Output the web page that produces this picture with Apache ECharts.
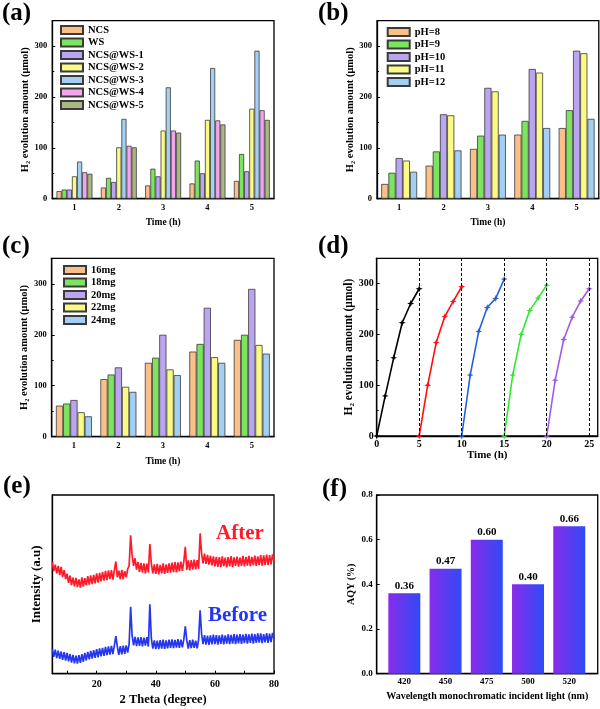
<!DOCTYPE html>
<html>
<head>
<meta charset="utf-8">
<script src="https://cdn.jsdelivr.net/npm/echarts@6/dist/echarts.min.js"></script>
<style>html,body{margin:0;padding:0;background:#fff;}#chart{width:600px;height:709px;}</style>
</head>
<body>
<div id="chart"></div>
<script>
// ---------- DATA ----------
const timeCats = ['1', '2', '3', '4', '5'];
// (a)
const a_NCS = [15, 22, 26, 30, 35];
const a_WS  = [18, 41, 59, 75, 88];
const a_WS1 = [18, 33, 44, 50, 54];
const a_WS2 = [44, 101, 134, 155, 177];
const a_WS3 = [73, 157, 219, 257, 291];
const a_WS4 = [52, 104, 134, 154, 174];
const a_WS5 = [49, 101, 130, 146, 155];
// (b)
const b_pH8  = [29, 65, 98, 126, 139];
const b_pH9  = [51, 93, 124, 153, 174];
const b_pH10 = [80, 166, 218, 255, 291];
const b_pH11 = [75, 164, 211, 248, 286];
const b_pH12 = [53, 95, 126, 139, 157];
// (c)
const c_16 = [61, 113, 145, 167, 190];
const c_18 = [65, 122, 155, 182, 200];
const c_20 = [72, 136, 200, 253, 290];
const c_22 = [48, 98, 132, 156, 180];
const c_24 = [40, 88, 121, 145, 163];
// (d)
const d_time1 = [0, 1, 2, 3, 4, 5];
const d_h2_1  = [0, 79, 154, 223, 261, 290];
const d_time2 = [5, 6, 7, 8, 9, 10];
const d_h2_2  = [0, 100, 184, 235, 265, 294];
const d_time3 = [10, 11, 12, 13, 14, 15];
const d_h2_3  = [0, 120, 206, 253, 271, 309];
const d_time4 = [15, 16, 17, 18, 19, 20];
const d_h2_4  = [0, 120, 200, 247, 272, 297];
const d_time5 = [20, 21, 22, 23, 24, 25];
const d_h2_5  = [0, 110, 190, 234, 266, 290];
const d_cycleEnds = [5, 10, 15, 20, 25];
// (e)
const e_theta = [
  5,5.5,6,6.5,7,7.5,8,8.5,9,9.5,
  10,10.5,11,11.5,12,12.5,13,13.5,14,14.5,
  15,15.5,16,16.5,17,17.5,18,18.5,19,19.5,
  20,20.5,21,21.5,22,22.5,23,23.5,24,24.5,
  25,25.5,26,26.5,27,27.5,28,28.5,29,29.5,
  30,30.5,31,31.5,32,32.5,33,33.5,34,34.5,
  35,35.5,36,36.5,37,37.5,38,38.5,39,39.5,
  40,40.5,41,41.5,42,42.5,43,43.5,44,44.5,
  45,45.5,46,46.5,47,47.5,48,48.5,49,49.5,
  50,50.5,51,51.5,52,52.5,53,53.5,54,54.5,
  55,55.5,56,56.5,57,57.5,58,58.5,59,59.5,
  60,60.5,61,61.5,62,62.5,63,63.5,64,64.5,
  65,65.5,66,66.5,67,67.5,68,68.5,69,69.5,
  70,70.5,71,71.5,72,72.5,73,73.5,74,74.5,
  75,75.5,76,76.5,77,77.5,78,78.5,79,79.5,
  80
];
const e_after = [
  62.6,57.4,61.0,56.1,60.3,55.2,59.8,54.1,57.9,53.0,
  56.0,50.8,54.9,49.6,53.7,48.9,53.6,48.5,52.8,48.2,
  53.9,48.7,53.5,49.4,54.6,49.9,55.0,50.2,55.3,50.6,
  56.1,51.0,56.4,51.7,57.0,52.1,57.6,52.4,57.8,52.9,
  57.9,52.6,58.0,62.8,53.9,57.6,52.8,58.1,53.0,57.4,
  53.9,58.6,60.5,77.5,66.2,60.4,64.6,58.3,62.5,57.0,
  62.0,56.5,61.8,56.1,61.6,56.6,72.5,61.7,56.2,61.2,
  55.9,61.4,55.6,60.9,56.1,61.7,55.8,61.1,56.4,61.8,
  56.6,62.1,56.9,62.5,56.7,62.3,57.2,62.7,57.5,62.9,
  71.0,58.1,63.4,57.8,63.6,58.2,63.8,58.4,63.5,58.7,
  78.5,67.3,61.8,67.2,61.5,66.5,61.0,66.0,60.6,65.7,
  60.1,65.4,59.8,65.2,59.6,65.6,60.2,64.9,59.5,65.3,
  60.0,65.8,59.7,65.1,60.4,65.5,59.9,65.0,60.3,65.9,
  60.1,65.3,60.5,66.0,60.2,65.4,60.6,66.1,60.4,65.7,
  60.7,66.4,60.5,66.2,60.9,66.7,60.8,66.3,61.2,66.8,
  63.0
];
const e_before = [
  14.0,9.4,13.5,8.7,12.9,8.3,12.4,7.7,12.0,7.4,
  11.6,6.9,11.0,6.2,10.5,5.8,10.1,5.6,10.4,6.1,
  11.0,6.7,11.6,7.4,12.2,8.0,12.7,8.4,13.2,8.9,
  13.8,9.2,14.2,9.7,14.5,10.0,15.0,10.4,15.3,10.7,
  15.5,11.0,15.8,21.0,15.1,10.6,15.4,10.8,15.7,11.1,
  15.8,11.8,16.7,37.5,21.4,15.8,20.6,15.4,20.3,15.6,
  20.5,15.3,20.2,15.7,20.4,15.2,38.8,19.7,14.0,18.6,
  13.7,18.5,13.8,18.8,14.1,19.0,13.9,18.7,14.2,19.1,
  14.4,19.2,14.3,18.9,14.6,19.4,14.4,19.1,14.7,19.3,
  26.5,18.6,14.0,18.8,14.3,19.0,14.5,18.5,14.2,19.2,
  35.5,22.2,16.6,21.6,16.3,21.3,16.1,21.5,16.4,21.8,
  16.5,21.6,16.3,21.4,16.7,21.9,16.4,21.5,16.8,22.0,
  16.6,21.7,16.9,22.1,16.5,21.8,17.0,22.2,16.7,21.9,
  17.1,22.3,16.8,22.0,17.2,22.4,16.9,22.1,17.3,22.5,
  17.4,22.6,17.1,22.2,17.6,22.7,17.3,22.4,17.7,22.8,
  19.5
];
const e_labelTicks = [20, 40, 60, 80];
const e_minorTicks = [10, 20, 30, 40, 50, 60, 70, 80];
// (f)
const f_wavelengths = ['420', '450', '475', '500', '520'];
const f_positions = [1, 2, 3, 4, 5];
const f_aqy = [0.36, 0.47, 0.60, 0.40, 0.66];

// ---------- STYLE ----------
const FONT = 'Liberation Serif';
const C = {
  orange: '#FBC087', green: '#7DE45F', lav: '#BCA5F0', yellow: '#FAFA85',
  blue: '#A3CFF5', pink: '#F3A6EE', olive: '#A9B981'
};
const grids = [
  {left: 52.3, top: 20.7, width: 221.7, height: 178},
  {left: 377, top: 20.7, width: 221.8, height: 178},
  {left: 51.7, top: 258.3, width: 222.3, height: 178.4},
  {left: 376.7, top: 258.3, width: 221, height: 177.7},
  {left: 52.3, top: 495, width: 221.7, height: 178.7},
  {left: 376.7, top: 495, width: 221, height: 178.7}
].map(g => Object.assign({show: true, borderColor: '#000', borderWidth: 1.3, backgroundColor: 'transparent', containLabel: false}, g));

const txt = (size) => ({fontFamily: FONT, fontWeight: 'bold', fontSize: size, color: '#000'});
const axLine = {show: true, lineStyle: {color: '#000', width: 1.3}};

function catX(idx, labelSize, nameGap, margin) {
  return {
    type: 'category', gridIndex: idx, data: timeCats,
    axisLine: axLine, axisTick: {show: false},
    axisLabel: Object.assign(txt(labelSize), {margin: margin}),
    name: 'Time (h)', nameLocation: 'middle', nameGap: nameGap, nameTextStyle: txt(9.5)
  };
}
function h2Y(idx, labelSize, nameSize, nameGap, margin) {
  return {
    type: 'value', gridIndex: idx, min: 0, max: 350, interval: 100,
    axisLine: axLine,
    axisTick: {show: true, inside: true, length: 3, lineStyle: {color: '#000'}},
    minorTick: {show: true, splitNumber: 2, length: 2, lineStyle: {color: '#000'}},
    splitLine: {show: false},
    axisLabel: Object.assign(txt(labelSize), {margin: margin, showMaxLabel: false}),
    name: 'H₂ evolution amount (μmol)', nameLocation: 'middle', nameRotate: 90,
    nameGap: nameGap, nameTextStyle: txt(nameSize)
  };
}
function barS(name, data, color, idx, gap) {
  return {
    type: 'bar', name: name, data: data, xAxisIndex: idx, yAxisIndex: idx,
    barGap: '0%', barCategoryGap: gap,
    itemStyle: {color: color, borderColor: '#3a3a3a', borderWidth: 0.8},
    emphasis: {disabled: true}
  };
}
const starPath = 'path://M0,-10 L2.6,-2.6 L10,0 L2.6,2.6 L0,10 L-2.6,2.6 L-10,0 L-2.6,-2.6 Z';
function lineS(xs, ys, color) {
  return {
    type: 'line', xAxisIndex: 3, yAxisIndex: 3,
    data: xs.map((x, i) => [x, ys[i]]),
    lineStyle: {color: color, width: 1.6}, itemStyle: {color: color},
    symbol: starPath, symbolSize: 7, showSymbol: true, animation: false
  };
}
function legendCfg(names, left, top) {
  return {
    data: names, left: left, top: top, orient: 'vertical', padding: 0,
    itemWidth: 22, itemHeight: 8, itemGap: 0.5, icon: 'rect',
    textStyle: Object.assign(txt(10.5), {lineHeight: 12}), selectedMode: false
  };
}

const option = {
  animation: false,
  backgroundColor: '#fff',
  grid: grids,
  legend: [
    legendCfg(['NCS', 'WS', 'NCS@WS-1', 'NCS@WS-2', 'NCS@WS-3', 'NCS@WS-4', 'NCS@WS-5'], 60, 24),
    legendCfg(['pH=8', 'pH=9', 'pH=10', 'pH=11', 'pH=12'], 386.7, 26),
    legendCfg(['16mg', '18mg', '20mg', '22mg', '24mg'], 63, 264)
  ],
  xAxis: [
    catX(0, 8.5, 19, 5),
    catX(1, 8.5, 19, 5),
    catX(2, 8.5, 19.5, 5),
    {
      type: 'value', gridIndex: 3, min: 0, max: 26, interval: 5,
      axisLine: axLine,
      axisTick: {show: true, inside: true, length: 3, lineStyle: {color: '#000'}},
      splitLine: {show: false},
      axisLabel: Object.assign(txt(10), {margin: 3, showMaxLabel: false}),
      name: 'Time (h)', nameLocation: 'middle', nameGap: 13.5, nameTextStyle: txt(11)
    },
    {
      type: 'value', gridIndex: 4, min: 5, max: 80,
      axisLine: axLine,
      axisTick: {show: true, inside: true, length: 3, lineStyle: {color: '#000'}, customValues: e_minorTicks},
      splitLine: {show: false},
      axisLabel: Object.assign(txt(10), {margin: 6, customValues: e_labelTicks}),
      name: '2 Theta (degree)', nameLocation: 'middle', nameGap: 20, nameTextStyle: txt(12.5)
    },
    {
      type: 'value', gridIndex: 5, min: 0.33, max: 5.69,
      axisLine: axLine, axisTick: {show: false}, splitLine: {show: false},
      axisLabel: Object.assign(txt(9), {margin: 3, customValues: f_positions,
        formatter: v => f_wavelengths[Math.round(v) - 1]}),
      name: 'Wavelength monochromatic incident light (nm)', nameLocation: 'middle',
      nameGap: 18, nameTextStyle: txt(10)
    }
  ],
  yAxis: [
    h2Y(0, 8.5, 10.5, 20, 5),
    h2Y(1, 8.5, 10.5, 20, 5),
    h2Y(2, 8.5, 10.5, 20, 5),
    h2Y(3, 10, 11.5, 21, 3),
    {
      type: 'value', gridIndex: 4, min: 0, max: 100,
      axisLine: axLine, axisTick: {show: false}, axisLabel: {show: false}, splitLine: {show: false},
      name: 'Intensity (a.u)', nameLocation: 'middle', nameRotate: 90, nameGap: 9, nameTextStyle: txt(13)
    },
    {
      type: 'value', gridIndex: 5, min: 0, max: 0.8, interval: 0.2,
      axisLine: axLine,
      axisTick: {show: true, inside: true, length: 3, lineStyle: {color: '#000'}},
      splitLine: {show: false},
      axisLabel: Object.assign(txt(9), {margin: 4, formatter: v => v.toFixed(1)}),
      name: 'AQY (%)', nameLocation: 'middle', nameRotate: 90, nameGap: 20, nameTextStyle: txt(10)
    }
  ],
  series: [
    barS('NCS', a_NCS, C.orange, 0, '19%'),
    barS('WS', a_WS, C.green, 0, '19%'),
    barS('NCS@WS-1', a_WS1, C.lav, 0, '19%'),
    barS('NCS@WS-2', a_WS2, C.yellow, 0, '19%'),
    barS('NCS@WS-3', a_WS3, C.blue, 0, '19%'),
    barS('NCS@WS-4', a_WS4, C.pink, 0, '19%'),
    barS('NCS@WS-5', a_WS5, C.olive, 0, '19%'),

    barS('pH=8', b_pH8, C.orange, 1, '19%'),
    barS('pH=9', b_pH9, C.green, 1, '19%'),
    barS('pH=10', b_pH10, C.lav, 1, '19%'),
    barS('pH=11', b_pH11, C.yellow, 1, '19%'),
    barS('pH=12', b_pH12, C.blue, 1, '19%'),

    barS('16mg', c_16, C.orange, 2, '19%'),
    barS('18mg', c_18, C.green, 2, '19%'),
    barS('20mg', c_20, C.lav, 2, '19%'),
    barS('22mg', c_22, C.yellow, 2, '19%'),
    barS('24mg', c_24, C.blue, 2, '19%'),

    Object.assign(lineS(d_time1, d_h2_1, '#000000'), {
      markLine: {
        silent: true, symbol: ['none', 'none'], label: {show: false},
        lineStyle: {color: '#000', type: [3, 2], width: 1},
        data: d_cycleEnds.map(x => ({xAxis: x}))
      }
    }),
    lineS(d_time2, d_h2_2, '#FF1010'),
    lineS(d_time3, d_h2_3, '#2460DC'),
    lineS(d_time4, d_h2_4, '#33E633'),
    lineS(d_time5, d_h2_5, '#9F5BE6'),

    {
      type: 'line', xAxisIndex: 4, yAxisIndex: 4, showSymbol: false, symbol: 'none',
      data: e_theta.map((t, i) => [t, e_after[i]]),
      lineStyle: {color: '#FF1A2A', width: 1.7}
    },
    {
      type: 'line', xAxisIndex: 4, yAxisIndex: 4, showSymbol: false, symbol: 'none',
      data: e_theta.map((t, i) => [t, e_before[i]]),
      lineStyle: {color: '#2636F0', width: 1.7}
    },

    {
      type: 'bar', xAxisIndex: 5, yAxisIndex: 5, barWidth: 32,
      data: f_positions.map((p, i) => [p, f_aqy[i]]),
      itemStyle: {
        color: new echarts.graphic.LinearGradient(0, 0, 1, 0, [
          {offset: 0, color: '#8A2BEA'}, {offset: 1, color: '#2F4BF6'}
        ])
      },
      label: Object.assign(txt(11), {show: true, position: 'top', distance: 2,
        formatter: p => p.value[1].toFixed(2)})
    }
  ],
  graphic: [
    {type: 'text', left: 2, top: 1, style: {text: '(a)', font: 'bold 25px "Liberation Serif"', fill: '#000'}},
    {type: 'text', left: 318, top: 1, style: {text: '(b)', font: 'bold 25px "Liberation Serif"', fill: '#000'}},
    {type: 'text', left: 2, top: 234, style: {text: '(c)', font: 'bold 25px "Liberation Serif"', fill: '#000'}},
    {type: 'text', left: 318, top: 234, style: {text: '(d)', font: 'bold 25px "Liberation Serif"', fill: '#000'}},
    {type: 'text', left: 3, top: 474, style: {text: '(e)', font: 'bold 25px "Liberation Serif"', fill: '#000'}},
    {type: 'text', left: 322, top: 477, style: {text: '(f)', font: 'bold 25px "Liberation Serif"', fill: '#000'}},
    {type: 'text', left: 216, top: 523, style: {text: 'After', font: 'bold 21px "Liberation Serif"', fill: '#FF1A2A'}},
    {type: 'text', left: 208, top: 605, style: {text: 'Before', font: 'bold 21px "Liberation Serif"', fill: '#2636F0'}}
  ]
};

const chart = echarts.init(document.getElementById('chart'), null, {renderer: 'canvas'});
chart.setOption(option);
</script>
</body>
</html>
